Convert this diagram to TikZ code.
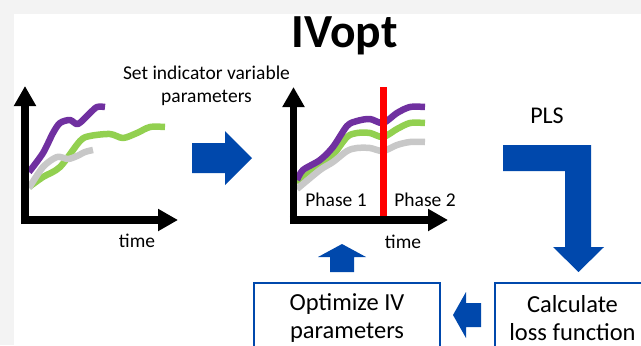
\documentclass[tikz,border=0pt]{standalone}
\usepackage{fontspec}
\setmainfont{Carlito}
\usetikzlibrary{arrows.meta}
\definecolor{pagegray}{RGB}{243,243,243}
\definecolor{flowblue}{RGB}{0,72,172}
\definecolor{curvepurple}{RGB}{112,48,160}
\definecolor{curvegreen}{RGB}{146,208,80}
\definecolor{curvegray}{RGB}{200,200,200}
\begin{document}
\begin{tikzpicture}[x=1bp,y=-1bp,
  axis/.style={line width=7.5bp, -{Triangle[length=20bp,width=21bp]}},
  curve/.style={line width=6.5bp, line join=round},
  lbl/.style={font=\fontsize{19.5bp}{23bp}\selectfont, inner sep=0pt, anchor=base},
  bigtxt/.style={font=\fontsize{24.5bp}{28.5bp}\selectfont},
  flowbox/.style={draw=flowblue, line width=2bp, fill=white, anchor=north west,
    align=center, inner sep=0pt, bigtxt},
  blockarrow/.style={fill=flowblue}]
\useasboundingbox (0,0) rectangle (641,345);
\clip (0,0) rectangle (641,345);
% page background
\fill[pagegray] (0,0) rectangle (641,345);
\fill[white] (14,14) rectangle (641,345);

% title
\node[font=\fontsize{47.5bp}{50bp}\selectfont\bfseries, inner sep=0pt, anchor=base] (title) at (344.5,47) {IVopt};

% left chart: raw trajectories
\draw[curve, curvegreen] plot[smooth, tension=0.5] coordinates {(29,187) (43,177) (60,167) (80,141) (90,136) (110,134) (123,138) (137,133) (150,127) (165,127)};
\draw[curve, curvegray] plot[smooth, tension=0.5] coordinates {(29,188) (43,167) (57,157) (68,159) (77,156) (85,152) (93,150)};
\draw[curve, curvepurple] plot[smooth, tension=0.5] coordinates {(29,172) (43,153) (53,133) (60,123) (70,120) (78,124) (90,113) (97,107) (105,107)};
\coordinate (o1) at (25,220);
\draw[axis] (25,224) -- (25,86);
\draw[axis] (21.25,220) -- (178,220);
\node[lbl] (time1) at (137,247) {time};

% step label and arrow between the charts
\node[lbl, align=center, anchor=north] (setiv) at (206.5,66) {Set indicator variable\\parameters};
\fill[blockarrow] (192,143) -- (225,143) -- (225,131) -- (252,158) -- (225,185) -- (225,173) -- (192,173) -- cycle;

% right chart: trajectories split in two phases
\draw[curve, curvegreen] plot[smooth, tension=0.5] coordinates {(297,183) (320,165) (333,155) (347,137) (357,133) (370,133) (383,137) (397,129) (410,123) (425,123)};
\draw[curve, curvegray] plot[smooth, tension=0.5] coordinates {(297,189) (320,170) (333,162) (347,151) (357,148) (370,148) (383,151) (397,145) (410,142) (425,142)};
\draw[curve, curvepurple] plot[smooth, tension=0.5] coordinates {(297,180) (303,170) (320,160) (333,147) (347,126) (357,121) (370,119) (383,123) (397,113) (410,107) (425,107)};
\draw[red, line width=7bp] (383.5,87) -- (383.5,217);
\draw[axis] (293.5,224) -- (293.5,87);
\draw[axis] (289.75,220) -- (448,220);
\node[lbl] (phase1) at (336,206.5) {Phase 1};
\node[lbl] (phase2) at (425,206.5) {Phase 2};
\node[lbl] (time2) at (403,248.5) {time};

% PLS step
\node[font=\fontsize{24bp}{28bp}\selectfont, inner sep=0pt, anchor=base] (pls) at (547,123) {PLS};
\fill[blockarrow] (503,145) -- (591,145) -- (591,247) -- (604,247) -- (578.5,272) -- (553,247) -- (565,247) -- (565,171) -- (503,171) -- cycle;

% optimisation loop
\node[flowbox, minimum width=155bp, minimum height=70bp] (loss) at (494,282) {Calculate\\loss function};
\node[flowbox, minimum width=186bp, minimum height=70bp] (opt) at (253,282) {Optimize IV\\parameters};
\fill[blockarrow] (481,303) -- (466,303) -- (466,292) -- (453,315) -- (466,338) -- (466,327) -- (481,327) -- cycle;
\fill[blockarrow] (330,272) -- (330,257) -- (318,257) -- (342,244) -- (366,257) -- (354,257) -- (354,272) -- cycle;
\end{tikzpicture}
\end{document}
